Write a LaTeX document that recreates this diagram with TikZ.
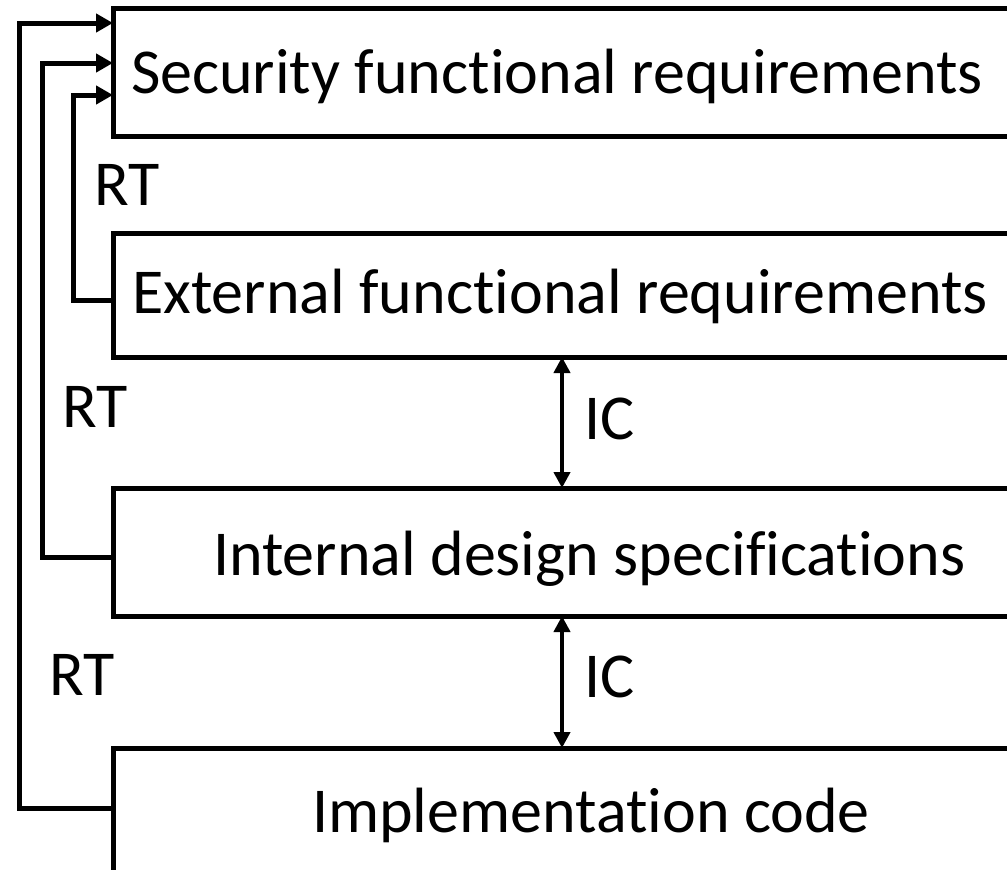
\documentclass[tikz,border=0pt]{standalone}
\usepackage{fontspec}
\setmainfont{Carlito}[Ligatures={NoCommon}]
\usetikzlibrary{arrows.meta}
\begin{document}
\begin{tikzpicture}[x=1pt,y=-1pt,
  box/.style={draw,line width=5pt,rectangle,minimum width=1100pt,inner sep=0pt,outer sep=0pt,anchor=north west},
  lbl/.style={font=\fontsize{64}{76}\selectfont,inner sep=0pt,outer sep=0pt,anchor=base west},
  fb/.style={line width=5pt,-{Triangle[length=17pt,width=18pt]}},
  ic/.style={line width=4pt,{Triangle[length=16pt,width=16pt]}-{Triangle[length=16pt,width=16pt]}}]
\useasboundingbox (0,0) rectangle (1007,870);
\fill[white] (0,0) rectangle (1007,870);
\clip (0,0) rectangle (1007,870);
% boxes
\node[box,minimum height=128pt] (b1) at (113,8) {};
\node[box,minimum height=124pt] (b2) at (113,233) {};
\node[box,minimum height=128pt] (b3) at (113,488) {};
\node[box,minimum height=160pt] (b4) at (113,748) {};
% box texts
\node[lbl] (t1) at (131,93) {Security functional requirements};
\node[lbl] (t2) at (132,313) {External functional requirements};
\node[lbl] (t3) at (213,575) {Internal design specifications};
\node[lbl] (t4) at (312,832) {Implementation code};
% RT / IC labels
\node[lbl] (rt1) at (94,205) {RT};
\node[lbl] (rt2) at (62,427) {RT};
\node[lbl] (rt3) at (49,695) {RT};
\node[lbl] (ic1) at (584,439) {IC};
\node[lbl] (ic2) at (584,697) {IC};
% feedback connectors
\coordinate (p1) at (19,808);
\coordinate (q1) at (19,23);
\coordinate (p2) at (42,557);
\coordinate (q2) at (42,63);
\coordinate (p3) at (73,300);
\coordinate (q3) at (73,95);
\draw[fb] (b4.west |- p1) -- (p1) -- (q1) -- (b1.west |- q1);
\draw[fb] (b3.west |- p2) -- (p2) -- (q2) -- (b1.west |- q2);
\draw[fb] (b2.west |- p3) -- (p3) -- (q3) -- (b1.west |- q3);
% IC connectors
\coordinate (icx) at (562,0);
\draw[ic] (b2.south -| icx) -- (b3.north -| icx);
\draw[ic] (b3.south -| icx) -- (b4.north -| icx);
\end{tikzpicture}
\end{document}
